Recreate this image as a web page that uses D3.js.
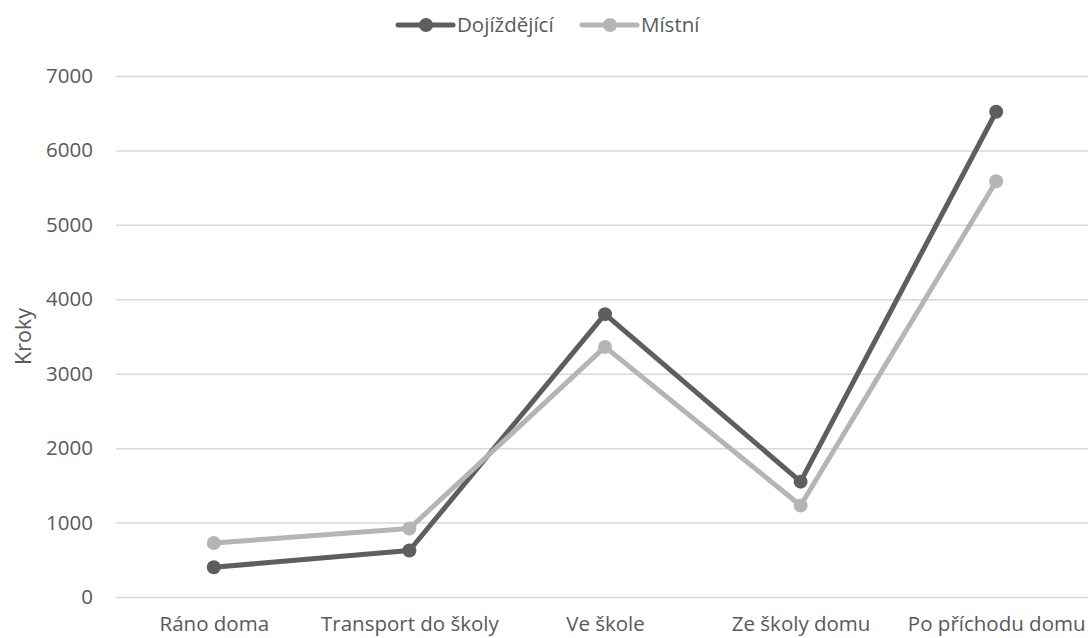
<!DOCTYPE html>
<html>
<head>
<meta charset="utf-8">
<script src="https://cdn.jsdelivr.net/npm/d3@7"></script>
<style>
  html, body { margin: 0; padding: 0; background: #fff; }
  svg { display: block; }
  text { font-family: "Open Sans", "Noto Sans", sans-serif; fill: #595959; }
</style>
</head>
<body>
<svg id="chart" width="1088" height="638"></svg>
<script>
const categories = ["Ráno doma", "Transport do školy", "Ve škole", "Ze školy domu", "Po příchodu domu"];
const seriesNames = ["Dojíždějící", "Místní"];
const dojizdejici = [400, 625, 3800, 1550, 6520];
const mistni = [725, 920, 3360, 1230, 5585];
const yTicks = [0, 1000, 2000, 3000, 4000, 5000, 6000, 7000];
const colors = ["#5e5e5e", "#b5b5b5"];
const FS = 20.5;

const svg = d3.select("#chart");
const W = 1088, H = 638;
const margin = { left: 116, right: -6, top: 76, bottom: 41 };
const x = d3.scalePoint().domain(categories).range([margin.left, W - margin.right]).padding(0.5);
const y = d3.scaleLinear().domain([0, 7000]).range([H - margin.bottom, margin.top]);

// gridlines + y tick labels
const yAxis = d3.axisLeft(y).tickValues(yTicks).tickSize(-(W - margin.right - margin.left)).tickPadding(24).tickFormat(d3.format("d"));
const gy = svg.append("g").attr("transform", `translate(${margin.left},0)`).call(yAxis);
gy.select(".domain").remove();
gy.selectAll(".tick line").attr("stroke", "#d9d9d9").attr("stroke-width", 1.5);
gy.selectAll(".tick text").attr("font-size", FS).attr("fill", "#595959").attr("x", -23).attr("font-family", null);

// x axis labels
const xAxis = d3.axisBottom(x).tickSize(0).tickPadding(0);
const gx = svg.append("g").attr("transform", `translate(0,${H - margin.bottom})`).call(xAxis);
gx.select(".domain").remove();
gx.selectAll(".tick text").attr("font-size", FS).attr("fill", "#595959").attr("dy", null).attr("y", 34).attr("font-family", null);

// y title
svg.append("text")
  .attr("transform", `translate(31,${(y(0) + y(7000)) / 2}) rotate(-90)`)
  .attr("text-anchor", "middle")
  .attr("font-size", FS + 1)
  .text("Kroky");

const data = [dojizdejici, mistni];
const line = d3.line().x((d, i) => x(categories[i])).y(d => y(d));

[0, 1].forEach(si => {
  const g = svg.append("g");
  g.append("path").datum(data[si])
    .attr("d", line)
    .attr("fill", "none")
    .attr("stroke", colors[si])
    .attr("stroke-width", 5)
    .attr("stroke-linejoin", "round")
    .attr("stroke-linecap", "round");
  g.selectAll("circle").data(data[si]).enter().append("circle")
    .attr("cx", (d, i) => x(categories[i]))
    .attr("cy", d => y(d))
    .attr("r", 7)
    .attr("fill", colors[si]);
});

// legend
const legendItems = [
  { name: seriesNames[0], x0: 398, color: colors[0] },
  { name: seriesNames[1], x0: 582, color: colors[1] }
];
const lg = svg.append("g");
legendItems.forEach(it => {
  const g = lg.append("g").attr("transform", `translate(${it.x0},25)`);
  g.append("line").attr("x1", 0).attr("x2", 55).attr("y1", 0).attr("y2", 0)
    .attr("stroke", it.color).attr("stroke-width", 5).attr("stroke-linecap", "round");
  g.append("circle").attr("cx", 28).attr("cy", 0).attr("r", 7).attr("fill", it.color);
  g.append("text").attr("x", 59).attr("y", 0).attr("dy", "0.35em").attr("font-size", FS).text(it.name);
});
</script>
</body>
</html>
